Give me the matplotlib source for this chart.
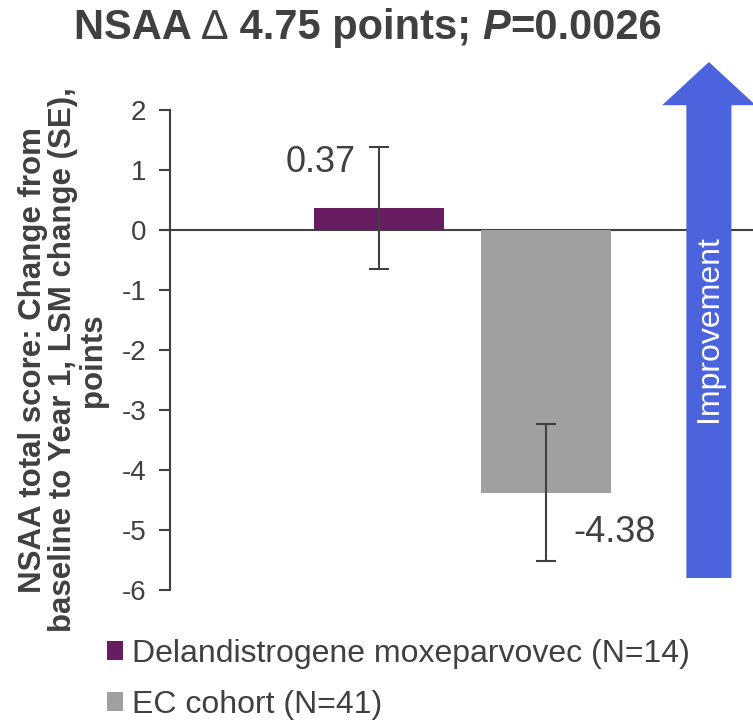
import matplotlib
matplotlib.use("Agg")
import matplotlib.pyplot as plt
from matplotlib.patches import Patch, FancyArrow
from matplotlib import font_manager

# Change from baseline to Year 1 (LSM) and standard errors
groups = ["Delandistrogene moxeparvovec (N=14)", "EC cohort (N=41)"]
lsm_change = [0.37, -4.38]
se = [1.02, 1.14]
value_labels = ["0.37", "-4.38"]
bar_colors = ["#681C62", "#A0A0A0"]

yticks = [2, 1, 0, -1, -2, -3, -4, -5, -6]

title_parts = [("NSAA ", "bold", "normal"), ("\u2206", "normal", "normal"),
               (" 4.75 points; ", "bold", "normal"), ("P", "bold", "italic"),
               ("=0.0026", "bold", "normal")]

TEXT = "#404040"
ARROW = "#4B64DE"

installed = {f.name for f in font_manager.fontManager.ttflist}
narrow = "Liberation Sans Narrow" if "Liberation Sans Narrow" in installed else "Liberation Sans"
plt.rcParams["font.family"] = ["Liberation Sans", "DejaVu Sans"]

fig = plt.figure(figsize=(7.53, 7.2), dpi=100)
ax = fig.add_axes([170 / 753, 1 - 590 / 720, 1 - 170 / 753, 480 / 720])

x = list(range(len(groups)))
ax.bar(x, lsm_change, width=0.78, color=bar_colors, zorder=2)
ax.errorbar(x, lsm_change, yerr=se, fmt="none", ecolor=TEXT, elinewidth=1.5,
            capsize=7, capthick=1.5, zorder=3)
ax.axhline(0, color=TEXT, lw=1.5, zorder=1, xmin=-0.015, clip_on=False)

# value labels beside each bar
ax.text(x[0] - 0.35, lsm_change[0] + 0.75, value_labels[0], ha="center", va="center",
        fontsize=26, color=TEXT)
ax.text(x[1] + 0.41, lsm_change[1] - 0.66, value_labels[1], ha="center", va="center",
        fontsize=26, color=TEXT)

ax.set_xlim(-1.251, 2.24)
ax.set_ylim(-6, 2)
ax.set_yticks(yticks)
ax.set_yticklabels([str(t) for t in yticks])
ax.tick_params(axis="y", direction="out", length=8, width=1.5, color=TEXT,
               labelsize=20, labelcolor=TEXT, pad=9)
ax.set_xticks([])
for side in ["top", "right", "bottom"]:
    ax.spines[side].set_visible(False)
ax.spines["left"].set_color(TEXT)
ax.spines["left"].set_linewidth(1.5)

# improvement arrow on the right
arrow = FancyArrow(1.976, -5.8, 0, 8.6, width=0.27, head_width=0.56,
                   head_length=0.72, length_includes_head=True,
                   color=ARROW, lw=0, clip_on=False, zorder=4)
ax.add_patch(arrow)
ax.text(1.976, -1.65, "Improvement", rotation=90, ha="center", va="center",
        color="white", fontsize=23, zorder=5)

fig.text(0.084, 0.5,
         "NSAA total score: Change from\nbaseline to Year 1, LSM change (SE),\npoints",
         rotation=90, ha="center", va="center", ma="center", fontsize=22.5,
         fontweight="bold", color=TEXT, linespacing=1.0)

handles = [Patch(facecolor=c, edgecolor="none") for c in bar_colors]
fig.legend(handles, groups, loc="upper left", bbox_to_anchor=(94 / 753, 1 - 626 / 720),
           frameon=False, fontsize=23, labelcolor=TEXT, handlelength=0.5,
           handleheight=0.5, handletextpad=0.3, labelspacing=0.66, borderaxespad=0)

# title built from pieces so the delta and the P can have their own style
pieces = []
y_title = 1 - 28 / 720
for txt, weight, style in title_parts:
    fam = [narrow, "DejaVu Sans"] if txt != "\u2206" else ["Liberation Sans", "DejaVu Sans"]
    t = fig.text(0.1, y_title, txt, ha="left", va="center", fontsize=30,
                 fontweight=weight, fontstyle=style, color=TEXT, family=fam)
    pieces.append(t)

fig.canvas.draw()
r = fig.canvas.get_renderer()
cursor = pieces[0].get_window_extent(r).x0
for t in pieces:
    t.set_position((cursor / fig.bbox.width, y_title))
    cursor = t.get_window_extent(r).x1
left = pieces[0].get_window_extent(r).x0
shift = 368 - (left + (cursor - left) / 2)
for t in pieces:
    px, py = t.get_position()
    t.set_position((px + shift / fig.bbox.width, py))

fig.savefig("out.png", dpi=100)
